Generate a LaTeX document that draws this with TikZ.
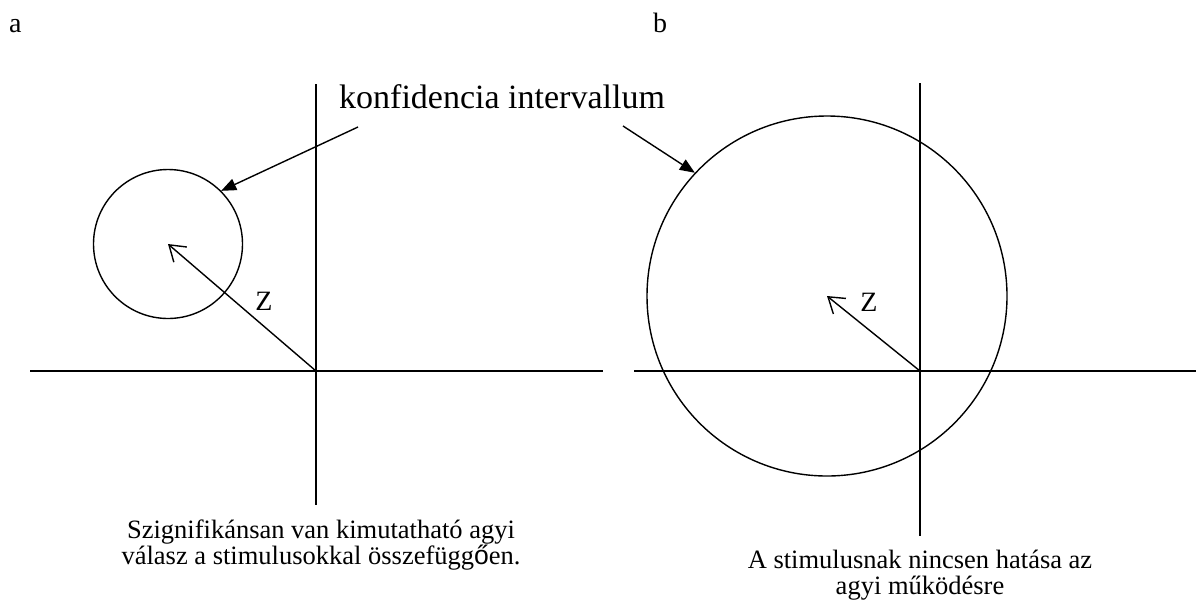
\documentclass[tikz,border=0pt]{standalone}
\usepackage{fontspec}
\setmainfont{Liberation Serif}
\setsansfont{Liberation Sans}
\usetikzlibrary{arrows.meta}
\begin{document}
\begin{tikzpicture}[x=1pt,y=-1pt,
  axis/.style={line width=1.6pt},
  ring/.style={circle,draw,line width=1.4pt,inner sep=0pt},
  zarrow/.style={line width=1.4pt,-{Straight Barb[length=15pt,width=20pt,line width=1.4pt]}},
  callout/.style={line width=1.4pt,-{Triangle[length=15pt,width=12pt]}},
  lbl/.style={inner sep=0pt,font=\fontsize{28}{32}\selectfont},
  caption/.style={inner sep=0pt,align=center,font=\fontsize{26.5}{26}\selectfont}]
\useasboundingbox (0,0) rectangle (1196,606);
% panel labels
\node[lbl,anchor=base west] (la) at (9,32) {a};
\node[lbl,anchor=base west] (lb) at (653,32) {b};
% left axes
\coordinate (oA) at (316,371);
\coordinate (hA1) at (30,371);
\coordinate (hA2) at (603,371);
\coordinate (vA1) at (316,84);
\coordinate (vA2) at (316,505);
\draw[axis] (hA1) -- (hA2);
\draw[axis] (vA1) -- (vA2);
% right axes
\coordinate (oB) at (920,371);
\coordinate (hB1) at (634,371);
\coordinate (hB2) at (1196,371);
\coordinate (vB1) at (920,83);
\coordinate (vB2) at (920,536);
\draw[axis] (hB1) -- (hB2);
\draw[axis] (vB1) -- (vB2);
% circles
\node[ring,minimum size=149pt] (cA) at (168,244) {};
\node[ring,minimum size=360pt] (cB) at (827,296) {};
% Z vectors
\draw[zarrow] (oA) -- (cA.center);
\draw[zarrow] (oB) -- (cB.center);
\node[lbl] (zA) at (264,301) {Z};
\node[lbl] (zB) at (869,302) {Z};
% confidence interval label and callouts
\node[inner sep=0pt,anchor=base west,font=\fontsize{34}{40}\selectfont] (ki) at (339,108) {konfidencia intervallum};
\coordinate (kA) at (358,127);
\coordinate (kB) at (623,126);
\draw[callout] (kA) -- (cA.45.7);
\draw[callout] (kB) -- (cB.137.9);
% captions
\node[caption,anchor=base] (capA) at (321,564) {Szignifikánsan van kimutatható agyi\\válasz a stimulusokkal összefügg{\sffamily ő}en.};
\node[caption,anchor=base] (capB) at (920,594) {A stimulusnak nincsen hatása az\\agyi működésre};
\end{tikzpicture}
\end{document}
